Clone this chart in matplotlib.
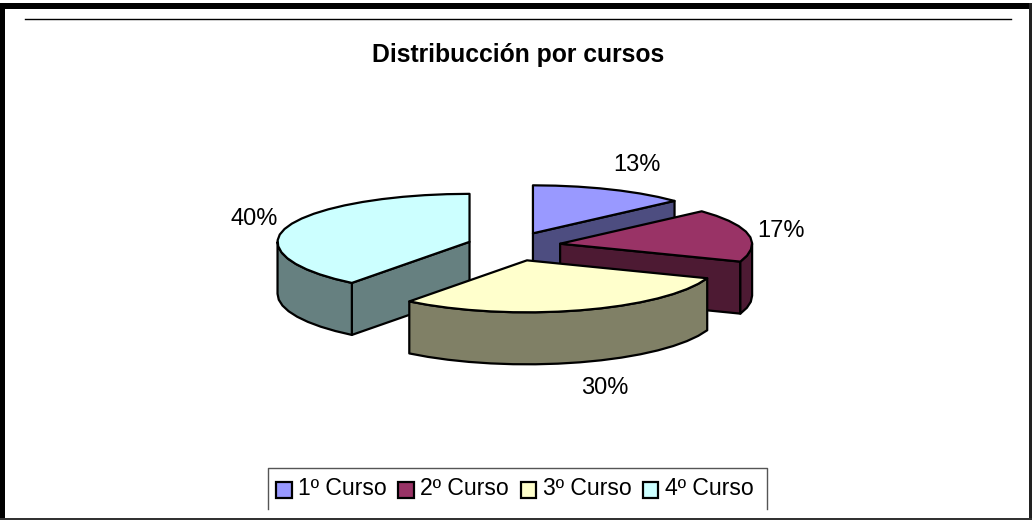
import numpy as np
import matplotlib
matplotlib.use('Agg')
import matplotlib.pyplot as plt
from matplotlib.patches import Polygon, Rectangle

plt.rcParams['font.family'] = ['Liberation Sans', 'DejaVu Sans']

categories = ['1º Curso', '2º Curso', '3º Curso', '4º Curso']
values = [13.2, 17.4, 29.9, 39.5]
colors = ['#9999FF', '#993366', '#FFFFCC', '#CCFFFF']
side_colors = ['#4D4D80', '#4D1A33', '#808066', '#668080']
title = 'Distribucción por cursos'

# pie geometry, in pixels
cx, cy = 514, 246.5
rx = 192
ry_back, ry_front = 48, 52
explode_x, explode_y = 47, 14.4
depth = 52
label_pos = [(637, 165), (781, 231), (605, 388), (254, 219)]

fig = plt.figure(figsize=(10.32, 5.2), dpi=100)
ax = fig.add_axes([0, 0, 1, 1])
ax.set_xlim(0, 1032)
ax.set_ylim(520, 0)
ax.axis('off')

# outer frame and the line above the title
ax.add_patch(Rectangle((0, 3), 5, 517, color='black', lw=0))
ax.add_patch(Rectangle((0, 3), 1032, 6, color='black', lw=0))
ax.add_patch(Rectangle((1029, 3), 3, 517, color='#222222', lw=0))
ax.add_patch(Rectangle((0, 518), 1032, 2, color='#333333', lw=0))
ax.plot([25, 1011], [18.5, 18.5], color='black', lw=1)

ax.text(518.5, 55, title, ha='center', va='center', fontsize=17.8, fontweight='bold')

edges = np.cumsum([0] + values) / sum(values) * 360


def rim(ox, oy, a0, a1):
    # coarse steps, the original outline is visibly faceted
    t = np.radians(np.linspace(a0, a1, int(abs(a1 - a0) / 7) + 2))
    c = np.cos(t)
    return np.column_stack([ox + rx * np.sin(t), oy - np.where(c > 0, ry_back, ry_front) * c])


def face(pts, color, z):
    ax.add_patch(Polygon(pts, closed=True, fc=color, ec='black', lw=1.6,
                         joinstyle='round', zorder=z))


# back slices first so the front ones cover them
for z, i in enumerate([3, 0, 1, 2]):
    a0, a1 = edges[i], edges[i + 1]
    mid = np.radians((a0 + a1) / 2)
    ox = cx + explode_x * np.sin(mid)
    oy = cy - explode_y * np.cos(mid)
    apex = np.array([ox, oy])
    drop = np.array([0, depth])

    # flat cut faces, only those turned to the viewer
    for a, normal in [(a0, a0 - 90), (a1, a1 + 90)]:
        if np.cos(np.radians(normal)) < 0:
            end = rim(ox, oy, a, a)[0]
            face([apex, end, end + drop, apex + drop], side_colors[i], z * 3 + 1)

    # curved wall, front half only
    lo, hi = max(a0, 90), min(a1, 270)
    if hi > lo:
        arc = rim(ox, oy, lo, hi)
        face(np.vstack([arc, (arc + drop)[::-1]]), side_colors[i], z * 3 + 2)

    face(np.vstack([apex, rim(ox, oy, a0, a1)]), colors[i], z * 3 + 3)

for v, (x, y) in zip(values, label_pos):
    ax.text(x, y, f'{v:.0f}%', ha='center', va='center', fontsize=17, zorder=20)

# legend box, its bottom edge is cut off in the original
ax.plot([268, 268, 766.5, 766.5], [509, 467.5, 467.5, 509], color='#555555', lw=1)
for i, name in enumerate(categories):
    x = 276 + 122.3 * i
    ax.add_patch(Rectangle((x, 482), 15.5, 15.5, fc=colors[i], ec='black', lw=1.6))
    ax.text(x + 22, 495, name, ha='left', va='baseline', fontsize=16.6)

fig.savefig('out.png', dpi=100)
